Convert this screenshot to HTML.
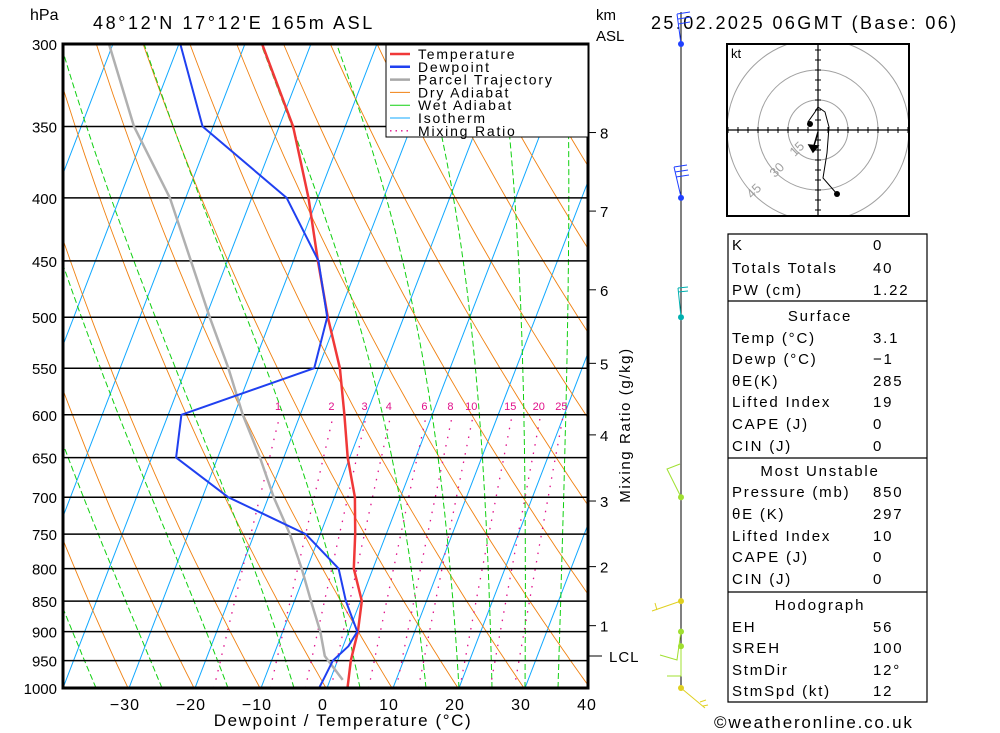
<!DOCTYPE html>
<html><head><meta charset="utf-8"><style>
body{margin:0;background:#fff;}
svg{display:block;font-family:"Liberation Sans",sans-serif;}
.t{font-size:16px;fill:#000;}
</style></head><body>
<svg id="chart" width="1000" height="733" viewBox="0 0 1000 733" xmlns="http://www.w3.org/2000/svg">
<defs><clipPath id="plotclip"><rect x="63" y="44" width="525" height="644"/></clipPath>
<clipPath id="hodoclip"><rect x="727" y="44" width="182" height="172"/></clipPath></defs>
<rect x="0" y="0" width="1000" height="733" fill="#fff"/>
<g id="bg" clip-path="url(#plotclip)"></g>
<g id="series" clip-path="url(#plotclip)"></g>
<g id="axes"></g>
<text x="30" y="20" class="t" font-size="15">hPa</text>
<text x="93" y="29" font-size="18" letter-spacing="2.6">48°12'N  17°12'E  165m  ASL</text>
<text x="651" y="29" font-size="18" letter-spacing="2.4">25.02.2025  06GMT  (Base: 06)</text>
<text x="596" y="20" font-size="15">km</text>
<text x="596" y="41" font-size="15">ASL</text>
<text x="343" y="726" font-size="17" text-anchor="middle" letter-spacing="1.6">Dewpoint / Temperature (°C)</text>
<text x="630" y="425" font-size="15" text-anchor="middle" letter-spacing="1.6" transform="rotate(-90 630 425)">Mixing Ratio (g/kg)</text>
<text x="714" y="728" font-size="17" letter-spacing="1.8">©weatheronline.co.uk</text>
<g id="legend"></g>
<g id="wind"></g>
<g id="hodo"></g>
<g id="table"></g>
</svg>
<script>
// ---- chart data ----
const pressures = [1000, 950, 900, 850, 800, 750, 700, 650, 600, 550, 500, 450, 400, 350, 300];
const temperature = [3.1, 2.0, 1.4, 0.2, -2.9, -4.7, -6.9, -10.3, -13.3, -16.7, -21.5, -26.3, -31.4, -37.9, -47.4];
const dewPressures = [1000, 980, 950, 925, 900, 850, 800, 750, 720, 700, 650, 600, 550, 500, 450, 400, 350, 300];
const dewpoint = [-1.2, -1.0, -0.7, 0.8, 1.3, -2.2, -5.2, -12.2, -20.4, -26.1, -36.3, -38.0, -20.6, -21.6, -26.2, -34.7, -51.6, -59.8];
const parcelPressures = [985, 942, 900, 850, 800, 750, 700, 650, 600, 550, 500, 400, 350, 300];
const parcelTemp = [1.9, -2.2, -4.3, -7.5, -10.8, -14.6, -19.2, -23.6, -28.7, -33.6, -39.4, -52.4, -62.0, -70.6];
const pressureTicks = [300, 350, 400, 450, 500, 550, 600, 650, 700, 750, 800, 850, 900, 950, 1000];
const tempTicks = [-30, -20, -10, 0, 10, 20, 30, 40];
const mixingRatios = [1, 2, 3, 4, 6, 8, 10, 15, 20, 25];
const kmTicks = [1, 2, 3, 4, 5, 6, 7, 8];
const kmPressures = [890, 797, 705, 623, 545, 475, 410, 354];
const windPressures = [300, 400, 500, 700, 850, 900, 925, 1000];
const windColors = ['#2040ff', '#2040ff', '#00b0b0', '#a0e030', '#e0d020', '#a0e030', '#a0e030', '#e0d020'];

const NS = 'http://www.w3.org/2000/svg';
const L = Math.log(1000 / 300);
function Y(p) { return 688 - 644 * Math.log(1000 / p) / L; }
function X(T, p) { return 327 + 6.6 * T + 0.385 * (688 - Y(p)); }
function mk(tag, attrs, parent) {
  const e = document.createElementNS(NS, tag);
  for (const k in attrs) e.setAttribute(k, attrs[k]);
  parent.appendChild(e);
  return e;
}
const bg = document.getElementById('bg');
const series = document.getElementById('series');
const axes = document.getElementById('axes');

function poly(pts) { return pts.map(q => q[0].toFixed(1) + ',' + q[1].toFixed(1)).join(' '); }

for (let T = -140; T <= 50; T += 10) {
  const e = mk('line', {x1: X(T, 1000), y1: 688, x2: X(T, 300), y2: 44, stroke: '#10a8ff', 'stroke-width': 1}, bg);
  
  
}
for (let th = 203; th <= 503; th += 10) {
  const pts = [];
  for (let p = 1000; p >= 300; p -= 10) pts.push([X(th * Math.pow(p / 1000, 0.2857) - 273.15, p), Y(p)]);
  const e = mk('polyline', {points: poly(pts), fill: 'none', stroke: '#f08010', 'stroke-width': 0.9}, bg);
  
  
}
[-45, -35, -25, -15, -5, 5, 15, 20, 25, 30, 35].forEach(T0 => {
  let T = T0 + 273.15; const pts = [];
  for (let p = 1000; p >= 295; p -= 5) {
    pts.push([X(T - 273.15, p), Y(p)]);
    const es = 6.112 * Math.exp(17.67 * (T - 273.15) / (T - 29.65));
    const rs = 0.622 * es / (p - es);
    const Lv = 2.5e6, Rd = 287, cp = 1004;
    const d = (Rd * T + Lv * rs) / (p * (cp + Lv * Lv * rs * 0.622 / (Rd * T * T)));
    T -= d * 5;
  }
  const e = mk('polyline', {points: poly(pts), fill: 'none', stroke: '#10d010', 'stroke-width': 1, 'stroke-dasharray': '6,3'}, bg);
  
  
});
mixingRatios.forEach(w => {
  const pts = [];
  for (let p = 1000; p >= 600; p -= 10) {
    const e = w * p / (622 + w); const a = Math.log(e / 6.112);
    pts.push([X(243.5 * a / (17.67 - a), p), Y(p)]);
  }
  const e = mk('polyline', {points: poly(pts), fill: 'none', stroke: '#e0108a', 'stroke-width': 1.3, 'stroke-dasharray': '1.5,7'}, bg);
  
  
  const t = mk('text', {x: pts[pts.length - 1][0] - 2, y: 410, 'font-size': 11, fill: '#e0108a', 'text-anchor': 'middle'}, bg);
  t.textContent = w;
  
  
});
pressureTicks.forEach(p => {
  const e = mk('line', {x1: 63, y1: Y(p), x2: 588, y2: Y(p), stroke: '#000', 'stroke-width': 1.5}, bg);
  
  
  const t = mk('text', {x: 57, y: Y(p) + 6, 'font-size': 15, 'text-anchor': 'end'}, axes);
  t.textContent = p;
  
  
});
function line(ps, ts, color, w, name) {
  const pts = ps.map((p, i) => [X(ts[i], p), Y(p)]);
  const e = mk('polyline', {points: poly(pts), fill: 'none', stroke: color, 'stroke-width': w, 'stroke-linejoin': 'round'}, series);
  
  
}
line(parcelPressures, parcelTemp, '#b0b0b0', 2.5, 'parcel-trajectory-line');
line(pressures, temperature, '#f03838', 2.5, 'temperature-line');
line(dewPressures, dewpoint, '#2040f0', 2, 'dewpoint-line');

const fr = mk('rect', {x: 63, y: 44, width: 525, height: 644, fill: 'none', stroke: '#000', 'stroke-width': 3}, axes);


tempTicks.forEach(T => {
  const t = mk('text', {x: X(T, 1000) - 4, y: 710, 'font-size': 16, 'text-anchor': 'middle', 'letter-spacing': 1}, axes);
  t.textContent = (T < 0 ? '\u2212' + (-T) : T);
  
  
});
kmTicks.forEach((k, i) => {
  const y = Y(kmPressures[i]);
  const e = mk('line', {x1: 588, y1: y, x2: 596, y2: y, stroke: '#000', 'stroke-width': 1}, axes);
  
  
  const t = mk('text', {x: 600, y: y + 6, 'font-size': 15}, axes);
  t.textContent = k;
  
  
});
const lclT = mk('line', {x1: 588, y1: 656, x2: 602, y2: 656, stroke: '#000'}, axes);


const lcl = mk('text', {x: 609, y: 662, 'font-size': 15, 'letter-spacing': 1}, axes);
lcl.textContent = 'LCL';



const lg = document.getElementById('legend');
const lbox = mk('rect', {x: 386, y: 45, width: 202, height: 92, fill: '#fff', stroke: '#000', 'stroke-width': 1}, lg);


[['Temperature', '#f03838', 2.5, ''], ['Dewpoint', '#2040f0', 2.5, ''], ['Parcel Trajectory', '#a8a8a8', 2.5, ''], ['Dry Adiabat', '#f08010', 1, ''], ['Wet Adiabat', '#10d010', 1, ''], ['Isotherm', '#10a8ff', 1, ''], ['Mixing Ratio', '#e0108a', 1.3, '1.5,4']].forEach((d, i) => {
  const y = 54 + i * 12.8;
  const e = mk('line', {x1: 390, y1: y, x2: 410, y2: y, stroke: d[1], 'stroke-width': d[2], 'stroke-dasharray': d[3]}, lg);
  
  
  const t = mk('text', {x: 418, y: y + 5, 'font-size': 14, 'letter-spacing': 1.8}, lg);
  t.textContent = d[0];
  
  
});

const wd = document.getElementById('wind');
const wl = mk('line', {x1: 681, y1: 12, x2: 681, y2: 690, stroke: '#000', 'stroke-width': 1}, wd);


const barbShapes = {
  300: 'M681,44 L677,14 M677,14 L690,12 M678,19 L691,17 M678,24 L690,22',
  400: 'M681,197 L674,167 M674,167 L687,165 M675,172 L688,170 M676,177 L689,175',
  500: 'M681,317 L678,288 M678,288 L688,287 M678,292 L688,291',
  700: 'M681,497 L667,469 L680,464',
  850: 'M681,601 L652,611 M655,603 L657,610',
  900: 'M681,631 L677,660 L660,655',
  925: 'M681,645 L681,676 L667,676',
  1000: 'M681,688 L705,708 M700,702 L706,700 M703,706 L708,705'
};
windPressures.forEach((p, i) => {
  const b = mk('path', {d: barbShapes[p], stroke: windColors[i], fill: 'none', 'stroke-width': 1}, wd);
  
  
  const c = mk('circle', {cx: 681, cy: Y(p), r: 3, fill: windColors[i]}, wd);
  
  
});

const hd = document.getElementById('hodo');
const cx = 818, cy = 130;
const hb = mk('rect', {x: 727, y: 44, width: 182, height: 172, fill: '#fff', stroke: 'none'}, hd);


const hc = mk('g', {'clip-path': 'url(#hodoclip)'}, hd);


[30, 60, 91].forEach(r => {
  const c = mk('circle', {cx: cx, cy: cy, r: r, fill: 'none', stroke: '#a0a0a0', 'stroke-width': 1}, hc);
  
  
});
const ax1 = mk('path', {d: 'M727,130 L909,130 M818,44 L818,216', stroke: '#000', 'stroke-width': 1.2}, hc);


let tk = '';
for (let k = -9; k <= 9; k++) { if (!k) continue; tk += `M${cx + k * 10},127 L${cx + k * 10},133 M815,${cy + k * 10} L821,${cy + k * 10} `; }
const tks = mk('path', {d: tk, stroke: '#000', 'stroke-width': 1}, hc);


const hf = mk('rect', {x: 727, y: 44, width: 182, height: 172, fill: 'none', stroke: '#000', 'stroke-width': 2}, hd);


[['15', 800, 152], ['30', 780, 173], ['45', 757, 194]].forEach(d => {
  const t = mk('text', {x: d[1], y: d[2], 'font-size': 13, fill: '#a0a0a0', transform: `rotate(-45 ${d[1]} ${d[2]})`, 'text-anchor': 'middle'}, hd);
  t.textContent = d[0];
  
  
});
const kt = mk('text', {x: 731, y: 58, 'font-size': 13}, hd);
kt.textContent = 'kt';


const tr = mk('polyline', {points: '837,194 823,178 827,153 829,127 825,112 818,107 815,112 808,122 810,124', fill: 'none', stroke: '#000', 'stroke-width': 1}, hd);


[[837, 194], [810, 124]].forEach(q => {
  const c = mk('circle', {cx: q[0], cy: q[1], r: 3, fill: '#000'}, hd);
  
  
});
const sm = mk('path', {d: 'M818,132 L813,149 M809,145 L813,152 L818,146 Z', stroke: '#000', fill: '#000', 'stroke-width': 1.5}, hd);



const tb = document.getElementById('table');
const rows = [
  ['K', '0', 245], ['Totals Totals', '40', 268], ['PW (cm)', '1.22', 290],
  ['#Surface', '', 316], ['Temp (°C)', '3.1', 338], ['Dewp (°C)', '\u22121', 359], ['θE(K)', '285', 381], ['Lifted Index', '19', 402], ['CAPE (J)', '0', 424], ['CIN (J)', '0', 446],
  ['#Most Unstable', '', 471], ['Pressure (mb)', '850', 492], ['θE (K)', '297', 514], ['Lifted Index', '10', 536], ['CAPE (J)', '0', 557], ['CIN (J)', '0', 579],
  ['#Hodograph', '', 605], ['EH', '56', 627], ['SREH', '100', 648], ['StmDir', '12°', 670], ['StmSpd (kt)', '12', 691]
];
const tbox = mk('path', {d: 'M728,234 H927 V702 H728 Z M728,301 H927 M728,458 H927 M728,592 H927', stroke: '#000', fill: 'none', 'stroke-width': 1.2}, tb);


rows.forEach(r => {
  const head = r[0][0] === '#';
  const t = mk('text', {x: head ? 820 : 732, y: r[2] + 5, 'font-size': 15, 'letter-spacing': 1.8, 'text-anchor': head ? 'middle' : 'start'}, tb);
  t.textContent = head ? r[0].slice(1) : r[0];
  
  
  if (!head) {
    const v = mk('text', {x: 873, y: r[2] + 5, 'font-size': 15, 'letter-spacing': 1.8}, tb);
    v.textContent = r[1];
    
    
  }
});
</script>
</body></html>
